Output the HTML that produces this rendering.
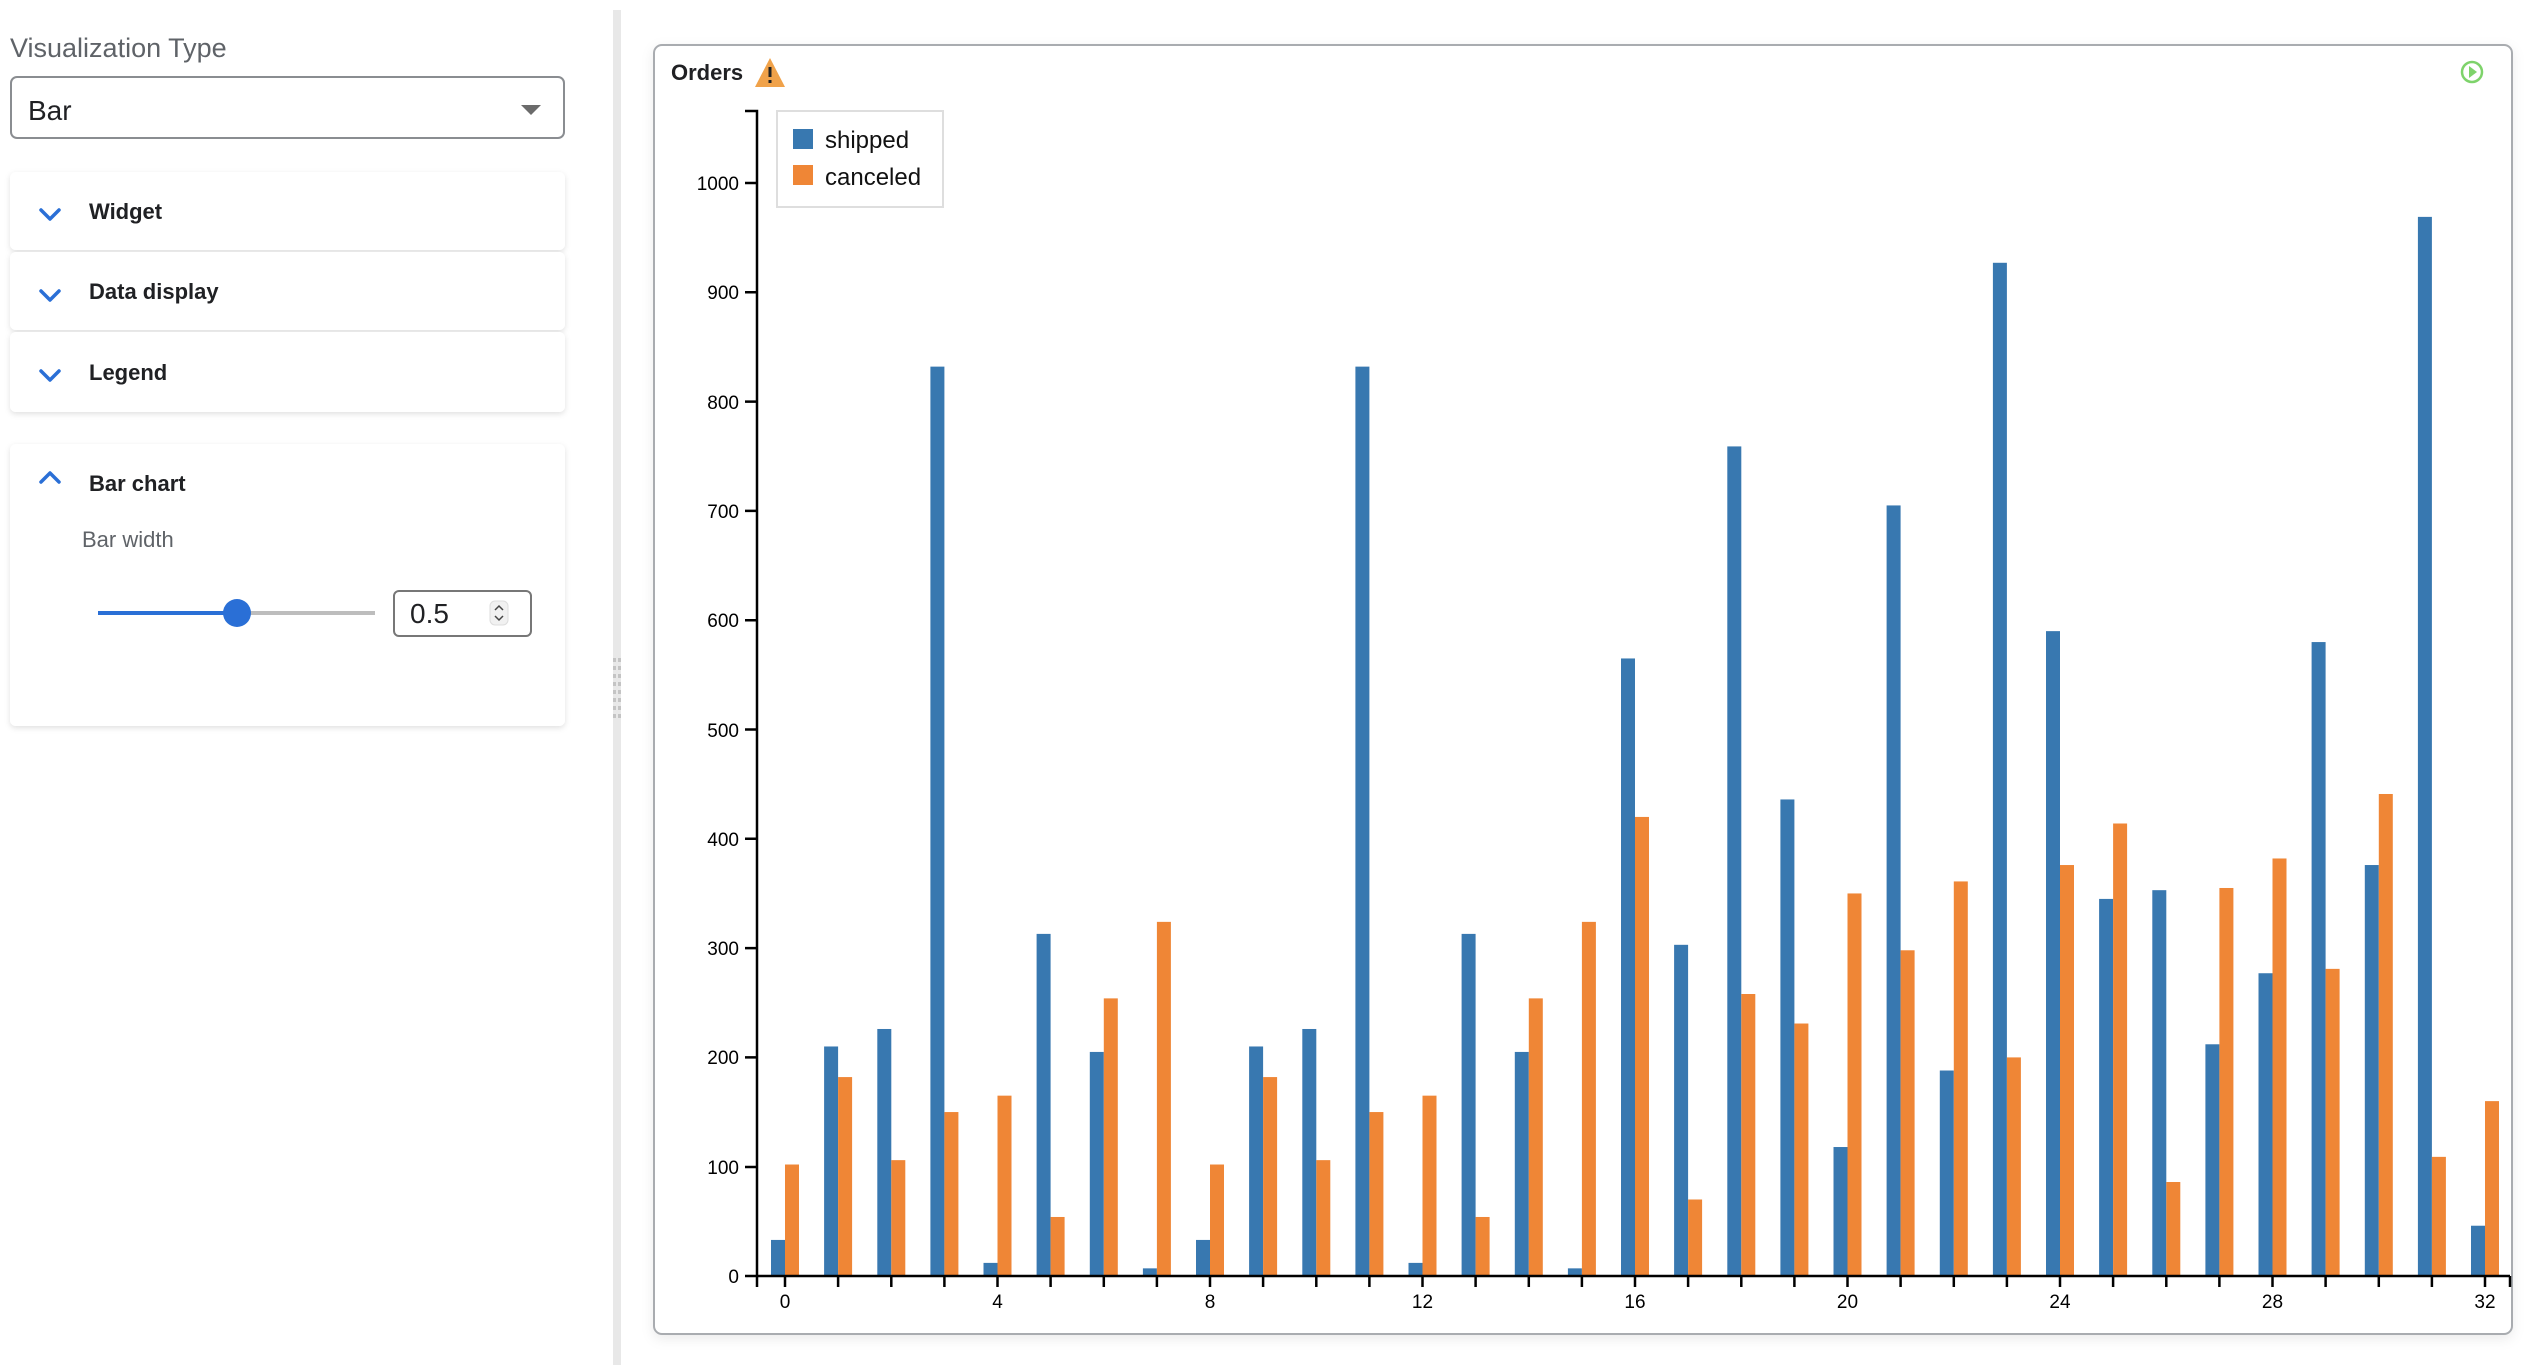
<!DOCTYPE html>
<html><head><meta charset="utf-8"><style>
html,body{margin:0;padding:0;background:#fff;width:2524px;height:1370px;overflow:hidden}
svg{display:block}
text{font-family:"Liberation Sans",Arial,sans-serif}
</style></head><body>
<svg width="2524" height="1370" viewBox="0 0 2524 1370" xmlns="http://www.w3.org/2000/svg">
<defs>
<filter id="sh" x="-5%" y="-10%" width="110%" height="130%"><feDropShadow dx="0" dy="2" stdDeviation="3" flood-color="#000" flood-opacity="0.12"/></filter>
<filter id="sh2" x="-5%" y="-5%" width="110%" height="110%"><feDropShadow dx="0" dy="4" stdDeviation="6" flood-color="#000" flood-opacity="0.08"/></filter>
</defs>
<!-- left panel -->
<text x="10" y="57" font-size="27" fill="#5f6368">Visualization Type</text>
<rect x="11" y="77" width="553" height="61" rx="6" fill="#fff" stroke="#8a8d91" stroke-width="2"/>
<text x="28" y="120" font-size="28" fill="#202124">Bar</text>
<path d="M521 105 L541 105 L531 115 Z" fill="#6b6b6b"/>

<g filter="url(#sh)">
<rect x="10" y="172" width="555" height="78" rx="6" fill="#fff"/>
<rect x="10" y="252" width="555" height="78" rx="6" fill="#fff"/>
<rect x="10" y="332" width="555" height="80" rx="6" fill="#fff"/>
<rect x="10" y="444" width="555" height="282" rx="6" fill="#fff"/>
</g>
<g fill="none" stroke="#2a6fd6" stroke-width="3.5" stroke-linecap="round" stroke-linejoin="round">
<path d="M41 210 L50 219 L59 210"/>
<path d="M41 291 L50 300 L59 291"/>
<path d="M41 371 L50 380 L59 371"/>
<path d="M41 482 L50 473 L59 482"/>
</g>
<g font-size="22" font-weight="bold" fill="#202124">
<text x="89" y="219">Widget</text>
<text x="89" y="299">Data display</text>
<text x="89" y="380">Legend</text>
<text x="89" y="491">Bar chart</text>
</g>
<text x="82" y="547" font-size="22" fill="#5f6368">Bar width</text>
<rect x="98" y="611" width="277" height="4" fill="#bdbdbd"/>
<rect x="98" y="611" width="139" height="4" fill="#2a6fd6"/>
<circle cx="237" cy="613" r="14" fill="#2a6fd6"/>
<rect x="394" y="591" width="137" height="45" rx="5" fill="#fff" stroke="#777" stroke-width="2"/>
<text x="410" y="623" font-size="28" fill="#202124">0.5</text>
<rect x="490" y="601" width="18" height="24" rx="5" fill="#f1f1f1" stroke="#ddd"/>
<path d="M495 610 L499 606 L503 610 M495 616 L499 620 L503 616" fill="none" stroke="#444" stroke-width="1.5"/>

<!-- divider -->
<rect x="613" y="10" width="8" height="1355" fill="#e8e8e8"/>
<g fill="#c4c4c4">
<rect x="613" y="658" width="3" height="4"/><rect x="618" y="658" width="3" height="4"/>
<rect x="613" y="666" width="3" height="4"/><rect x="618" y="666" width="3" height="4"/>
<rect x="613" y="674" width="3" height="4"/><rect x="618" y="674" width="3" height="4"/>
<rect x="613" y="682" width="3" height="4"/><rect x="618" y="682" width="3" height="4"/>
<rect x="613" y="690" width="3" height="4"/><rect x="618" y="690" width="3" height="4"/>
<rect x="613" y="698" width="3" height="4"/><rect x="618" y="698" width="3" height="4"/>
<rect x="613" y="706" width="3" height="4"/><rect x="618" y="706" width="3" height="4"/>
<rect x="613" y="714" width="3" height="4"/><rect x="618" y="714" width="3" height="4"/>
</g>

<!-- card -->
<rect x="654" y="45" width="1858" height="1289" rx="8" fill="#fff" stroke="#a9acb0" stroke-width="2" filter="url(#sh2)"/>
<text x="671" y="80" font-size="22" font-weight="bold" fill="#202124">Orders</text>
<path d="M770 58 L785 87 L755 87 Z" fill="#f0a24a"/>
<rect x="768.5" y="67" width="3" height="10" fill="#222"/><rect x="768.5" y="80" width="3" height="3" fill="#222"/>
<circle cx="2472" cy="72" r="10" fill="none" stroke="#7ed36b" stroke-width="2.5"/>
<path d="M2469 66 L2477 72 L2469 78 Z" fill="#7ed36b"/>

<!-- bars -->
<g transform="translate(0,1276) scale(1,-1.093)">
<g fill="#3878b0">
<rect x="771" y="0" width="14" height="33"/>
<rect x="824.1" y="0" width="14" height="210"/>
<rect x="877.3" y="0" width="14" height="226"/>
<rect x="930.4" y="0" width="14" height="832"/>
<rect x="983.5" y="0" width="14" height="12"/>
<rect x="1036.6" y="0" width="14" height="313"/>
<rect x="1089.8" y="0" width="14" height="205"/>
<rect x="1142.9" y="0" width="14" height="7"/>
<rect x="1196" y="0" width="14" height="33"/>
<rect x="1249.1" y="0" width="14" height="210"/>
<rect x="1302.3" y="0" width="14" height="226"/>
<rect x="1355.4" y="0" width="14" height="832"/>
<rect x="1408.5" y="0" width="14" height="12"/>
<rect x="1461.6" y="0" width="14" height="313"/>
<rect x="1514.8" y="0" width="14" height="205"/>
<rect x="1567.9" y="0" width="14" height="7"/>
<rect x="1621" y="0" width="14" height="565"/>
<rect x="1674.1" y="0" width="14" height="303"/>
<rect x="1727.3" y="0" width="14" height="759"/>
<rect x="1780.4" y="0" width="14" height="436"/>
<rect x="1833.5" y="0" width="14" height="118"/>
<rect x="1886.6" y="0" width="14" height="705"/>
<rect x="1939.8" y="0" width="14" height="188"/>
<rect x="1992.9" y="0" width="14" height="927"/>
<rect x="2046" y="0" width="14" height="590"/>
<rect x="2099.1" y="0" width="14" height="345"/>
<rect x="2152.3" y="0" width="14" height="353"/>
<rect x="2205.4" y="0" width="14" height="212"/>
<rect x="2258.5" y="0" width="14" height="277"/>
<rect x="2311.6" y="0" width="14" height="580"/>
<rect x="2364.8" y="0" width="14" height="376"/>
<rect x="2417.9" y="0" width="14" height="969"/>
<rect x="2471" y="0" width="14" height="46"/>
</g>
<g fill="#ef8636">
<rect x="785" y="0" width="14" height="102"/>
<rect x="838.1" y="0" width="14" height="182"/>
<rect x="891.3" y="0" width="14" height="106"/>
<rect x="944.4" y="0" width="14" height="150"/>
<rect x="997.5" y="0" width="14" height="165"/>
<rect x="1050.6" y="0" width="14" height="54"/>
<rect x="1103.8" y="0" width="14" height="254"/>
<rect x="1156.9" y="0" width="14" height="324"/>
<rect x="1210" y="0" width="14" height="102"/>
<rect x="1263.1" y="0" width="14" height="182"/>
<rect x="1316.3" y="0" width="14" height="106"/>
<rect x="1369.4" y="0" width="14" height="150"/>
<rect x="1422.5" y="0" width="14" height="165"/>
<rect x="1475.6" y="0" width="14" height="54"/>
<rect x="1528.8" y="0" width="14" height="254"/>
<rect x="1581.9" y="0" width="14" height="324"/>
<rect x="1635" y="0" width="14" height="420"/>
<rect x="1688.1" y="0" width="14" height="70"/>
<rect x="1741.3" y="0" width="14" height="258"/>
<rect x="1794.4" y="0" width="14" height="231"/>
<rect x="1847.5" y="0" width="14" height="350"/>
<rect x="1900.6" y="0" width="14" height="298"/>
<rect x="1953.8" y="0" width="14" height="361"/>
<rect x="2006.9" y="0" width="14" height="200"/>
<rect x="2060" y="0" width="14" height="376"/>
<rect x="2113.1" y="0" width="14" height="414"/>
<rect x="2166.3" y="0" width="14" height="86"/>
<rect x="2219.4" y="0" width="14" height="355"/>
<rect x="2272.5" y="0" width="14" height="382"/>
<rect x="2325.6" y="0" width="14" height="281"/>
<rect x="2378.8" y="0" width="14" height="441"/>
<rect x="2431.9" y="0" width="14" height="109"/>
<rect x="2485" y="0" width="14" height="160"/>
</g>
</g>

<!-- axes -->
<g stroke="#000" stroke-width="2.5" fill="none">
<path d="M745 111 L757 111 L757 1277"/>
<path d="M745 1276 L2510 1276"/>
<path d="M745 1167 H757 M745 1057.4 H757 M745 948.1 H757 M745 838.8 H757 M745 729.5 H757 M745 620.2 H757 M745 510.9 H757 M745 401.6 H757 M745 292.3 H757 M745 183 H757"/>
<path d="M757 1276 V1287 M2510 1276 V1287 M785 1276 V1287 M838.1 1276 V1287 M891.3 1276 V1287 M944.4 1276 V1287 M997.5 1276 V1287 M1050.6 1276 V1287 M1103.8 1276 V1287 M1156.9 1276 V1287 M1210 1276 V1287 M1263.1 1276 V1287 M1316.3 1276 V1287 M1369.4 1276 V1287 M1422.5 1276 V1287 M1475.6 1276 V1287 M1528.8 1276 V1287 M1581.9 1276 V1287 M1635 1276 V1287 M1688.1 1276 V1287 M1741.3 1276 V1287 M1794.4 1276 V1287 M1847.5 1276 V1287 M1900.6 1276 V1287 M1953.8 1276 V1287 M2006.9 1276 V1287 M2060 1276 V1287 M2113.1 1276 V1287 M2166.3 1276 V1287 M2219.4 1276 V1287 M2272.5 1276 V1287 M2325.6 1276 V1287 M2378.8 1276 V1287 M2431.9 1276 V1287 M2485 1276 V1287"/>
</g>
<g font-size="19" fill="#000" text-anchor="end">
<text x="739" y="1283">0</text>
<text x="739" y="1174">100</text>
<text x="739" y="1064">200</text>
<text x="739" y="955">300</text>
<text x="739" y="846">400</text>
<text x="739" y="737">500</text>
<text x="739" y="627">600</text>
<text x="739" y="518">700</text>
<text x="739" y="409">800</text>
<text x="739" y="299">900</text>
<text x="739" y="190">1000</text>
</g>
<g font-size="19" fill="#000" text-anchor="middle">
<text x="785" y="1308">0</text>
<text x="997.5" y="1308">4</text>
<text x="1210" y="1308">8</text>
<text x="1422.5" y="1308">12</text>
<text x="1635" y="1308">16</text>
<text x="1847.5" y="1308">20</text>
<text x="2060" y="1308">24</text>
<text x="2272.5" y="1308">28</text>
<text x="2485" y="1308">32</text>
</g>

<!-- legend -->
<rect x="777" y="111" width="166" height="96" fill="#fff" stroke="#dedede" stroke-width="2"/>
<rect x="793" y="129" width="20" height="20" fill="#3878b0"/>
<rect x="793" y="165" width="20" height="20" fill="#ef8636"/>
<text x="825" y="148" font-size="24" fill="#111">shipped</text>
<text x="825" y="185" font-size="24" fill="#111">canceled</text>
</svg>
</body></html>
